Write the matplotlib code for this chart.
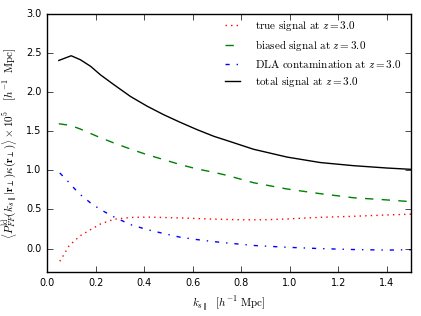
import matplotlib
matplotlib.use("Agg")
import matplotlib.pyplot as plt
import numpy as np

plt.style.use("classic")
plt.rcParams["mathtext.fontset"] = "cm"

k_true = [0.052, 0.069, 0.089, 0.11, 0.137, 0.179, 0.22, 0.275, 0.343, 0.412, 0.549, 0.687, 0.80, 0.90, 0.988, 1.125, 1.262, 1.40, 1.5]
true_sig = [-0.162, -0.077, 0.03, 0.093, 0.166, 0.243, 0.315, 0.375, 0.398, 0.403, 0.392, 0.377, 0.368, 0.369, 0.379, 0.40, 0.413, 0.43, 0.44]

k_bias = [0.048, 0.096, 0.137, 0.206, 0.275, 0.343, 0.412, 0.481, 0.549, 0.618, 0.687, 0.742, 0.85, 0.988, 1.125, 1.262, 1.40, 1.5]
bias_sig = [1.596, 1.575, 1.528, 1.435, 1.35, 1.273, 1.20, 1.137, 1.073, 1.018, 0.975, 0.935, 0.842, 0.762, 0.702, 0.650, 0.622, 0.60]

k_dla = [0.052, 0.082, 0.11, 0.137, 0.179, 0.22, 0.275, 0.343, 0.412, 0.481, 0.549, 0.618, 0.687, 0.742, 0.85, 0.988, 1.125, 1.262, 1.40, 1.5]
dla_sig = [0.967, 0.872, 0.775, 0.69, 0.583, 0.498, 0.405, 0.307, 0.243, 0.192, 0.145, 0.115, 0.089, 0.072, 0.040, 0.017, 0.0, -0.012, -0.019, -0.014]

k_tot = [0.048, 0.099, 0.137, 0.179, 0.22, 0.275, 0.343, 0.412, 0.481, 0.549, 0.618, 0.687, 0.742, 0.85, 0.988, 1.125, 1.262, 1.40, 1.5]
tot_sig = [2.405, 2.465, 2.414, 2.33, 2.22, 2.095, 1.945, 1.82, 1.71, 1.613, 1.52, 1.435, 1.38, 1.27, 1.17, 1.10, 1.06, 1.03, 1.013]

fig = plt.figure(figsize=(4.21, 3.16), dpi=100)
fig.patch.set_facecolor("white")
ax = fig.add_axes([0.112, 0.139, 0.865, 0.817])

ax.plot(k_true, true_sig, color="red", ls=":", lw=1.0, label=r"$\mathrm{true\ signal\ at\ }z=3.0$")
ax.plot(k_bias, bias_sig, color="green", ls="--", lw=1.0, label=r"$\mathrm{biased\ signal\ at\ }z=3.0$")
ax.plot(k_dla, dla_sig, color="blue", ls="-.", lw=1.0, label=r"$\mathrm{DLA\ contamination\ at\ }z=3.0$")
ax.plot(k_tot, tot_sig, color="black", ls="-", lw=1.0, label=r"$\mathrm{total\ signal\ at\ }z=3.0$")

ax.set_xlim(0, 1.5)
ax.set_ylim(-0.3, 3.0)
ax.set_xticks(np.arange(0, 1.41, 0.2))
ax.set_yticks(np.arange(0, 3.01, 0.5))
ax.tick_params(labelsize=7, direction="in", length=4)
ax.set_xlabel(r"$k_{s\parallel}\ \ [h^{-1}\ \mathrm{Mpc}]$", fontsize=8)
ax.set_ylabel(r"$\left\langle P^{\mathrm{ld}}_{FF}(k_{s\parallel}|\mathbf{r}_\perp)\kappa(\mathbf{r}_\perp)\right\rangle\times10^5\ \ \ [h^{-1}\ \ \mathrm{Mpc}]$", fontsize=8)
leg = ax.legend(loc="upper right", bbox_to_anchor=(1.0, 1.02), fontsize=8, frameon=False,
                handlelength=2.0, handletextpad=1.0, labelspacing=0.45)

fig.savefig("out.png", dpi=100, facecolor="white")
